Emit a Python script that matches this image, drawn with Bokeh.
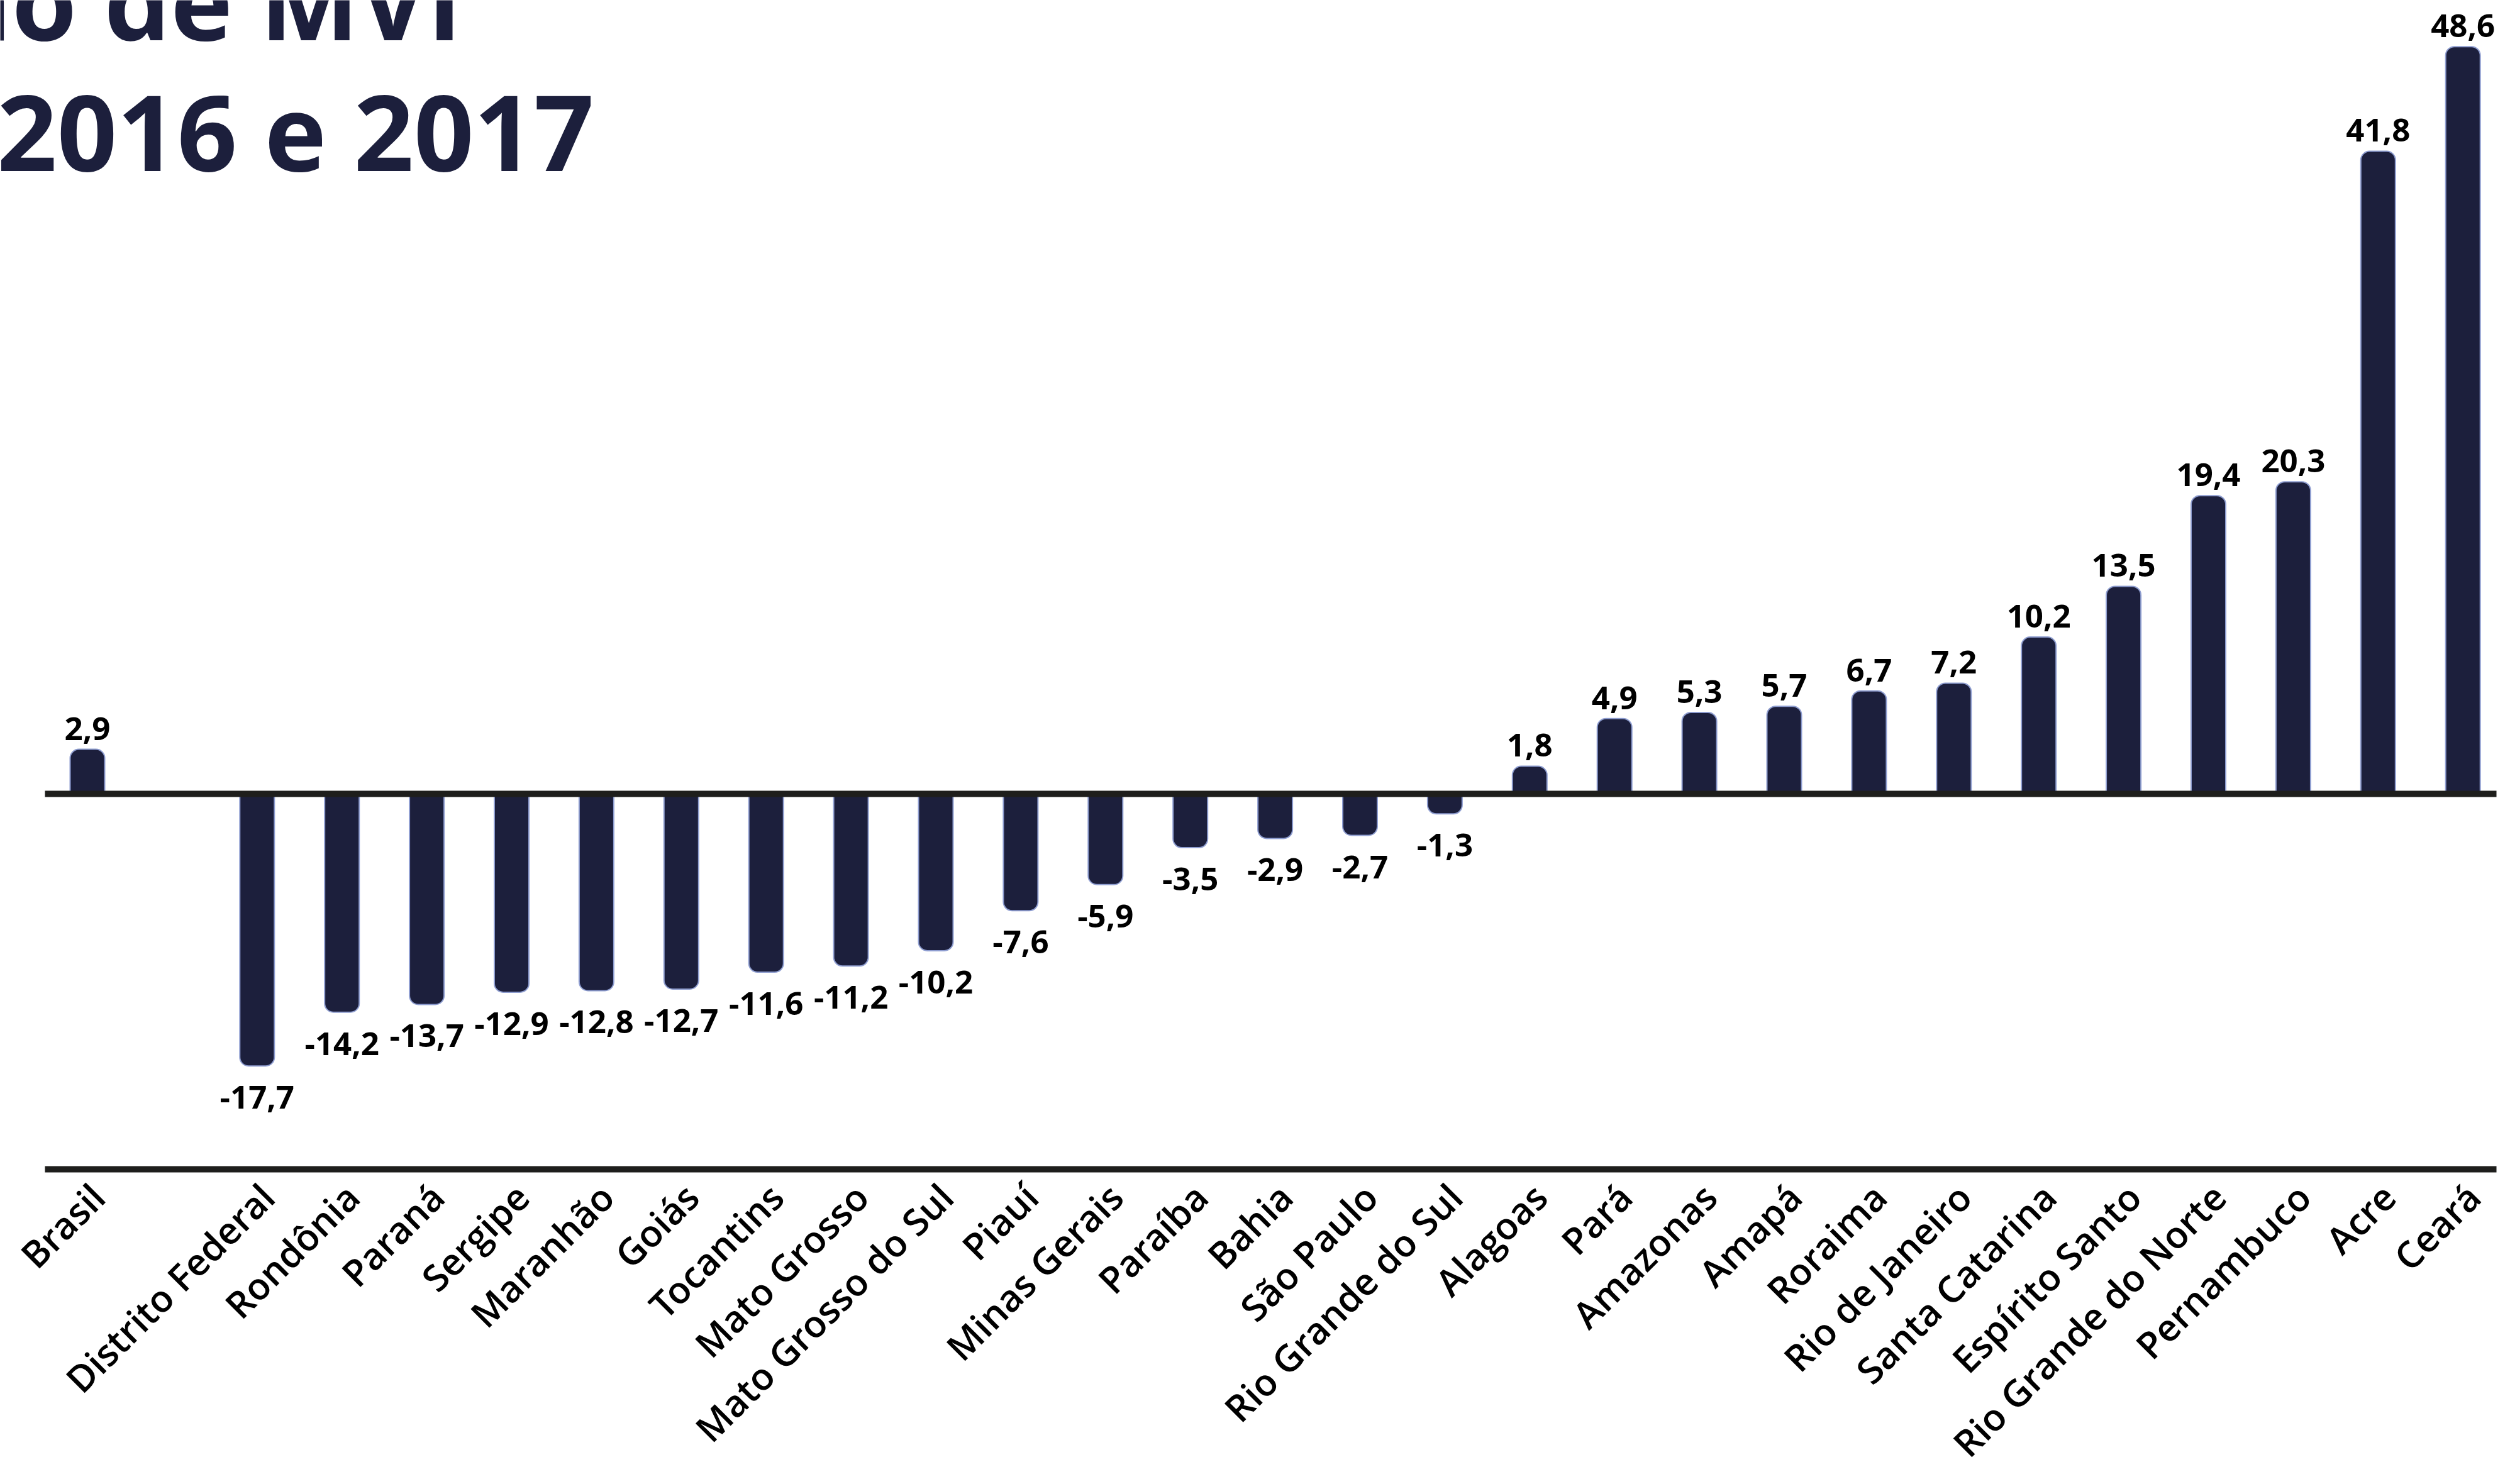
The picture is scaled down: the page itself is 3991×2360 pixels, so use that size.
import math
from bokeh.plotting import figure
from bokeh.models import ColumnDataSource, Range1d
from bokeh.embed import file_html
from bokeh.resources import INLINE
from bokeh.core.properties import value

# ---------------- data ----------------
states = ["Brasil", "Distrito Federal", "Rondônia", "Paraná", "Sergipe", "Maranhão",
          "Goiás", "Tocantins", "Mato Grosso", "Mato Grosso do Sul", "Piauí",
          "Minas Gerais", "Paraíba", "Bahia", "São Paulo", "Rio Grande do Sul",
          "Alagoas", "Pará", "Amazonas", "Amapá", "Roraima", "Rio de Janeiro",
          "Santa Catarina", "Espírito Santo", "Rio Grande do Norte", "Pernambuco",
          "Acre", "Ceará"]
variation = [2.9, -17.7, -14.2, -13.7, -12.9, -12.8, -12.7, -11.6, -11.2, -10.2, -7.6,
             -5.9, -3.5, -2.9, -2.7, -1.3, 1.8, 4.9, 5.3, 5.7, 6.7, 7.2, 10.2, 13.5,
             19.4, 20.3, 41.8, 48.6]
title_lines = ["Variação de MVI", "entre 2016 e 2017"]

# ---------------- layout (pixels of the page) ----------------
W, H = 3975, 2344
MARGIN = 8
SLOT_PX = 134.9      # distance between bar centres
X0_PX = 146.5        # centre of first bar
UNIT_PX = 24.45      # pixels per percentage point
ZERO_PX = 1270       # zero line
BASE_PX = 1867       # lower rule
LINE_L, LINE_R = 79, 3977

NAVY = "#1c1f3c"
EDGE = "#8e9dd0"
RULE = "#1e1e1c"


def dx(px):
    return (px - X0_PX) / SLOT_PX


def dy(py):
    return (ZERO_PX - py) / UNIT_PX


# Brasil is separated from the states by one empty slot
pos = [0] + [i + 2 for i in range(len(states) - 1)]
labels = [f"{v:.1f}".replace(".", ",") for v in variation]

p = figure(width=W, height=H,
           x_range=Range1d(dx(MARGIN), dx(MARGIN + W)),
           y_range=Range1d(dy(MARGIN + H), dy(MARGIN)),
           output_backend="svg", toolbar_location=None,
           x_axis_location=None, y_axis_location=None,
           min_border=0, outline_line_color=None,
           background_fill_color="white", border_fill_color="white")
p.grid.visible = False

pos_src = ColumnDataSource(dict(
    x=[x for x, v in zip(pos, variation) if v >= 0],
    top=[v for v in variation if v >= 0],
    bottom=[0 for v in variation if v >= 0],
    lab=[l for l, v in zip(labels, variation) if v >= 0]))
neg_src = ColumnDataSource(dict(
    x=[x for x, v in zip(pos, variation) if v < 0],
    top=[0 for v in variation if v < 0],
    bottom=[v for v in variation if v < 0],
    lab=[l for l, v in zip(labels, variation) if v < 0]))

BAR_W = 55 / SLOT_PX
p.vbar(x="x", top="top", bottom="bottom", width=BAR_W, source=pos_src,
       fill_color=NAVY, line_color=EDGE, line_width=2, border_radius=(14, 14, 0, 0))
p.vbar(x="x", top="top", bottom="bottom", width=BAR_W, source=neg_src,
       fill_color=NAVY, line_color=EDGE, line_width=2, border_radius=(0, 0, 14, 14))

# rules
p.segment(x0=[dx(LINE_L), dx(LINE_L)], y0=[0, dy(BASE_PX)],
          x1=[dx(LINE_R), dx(LINE_R)], y1=[0, dy(BASE_PX)],
          line_width=10, line_color=RULE, line_cap="butt")

# value labels
p.text(x="x", y="top", text="lab", source=pos_src, text_align="center",
       text_baseline="alphabetic", y_offset=-33, text_font=value("Open Sans"),
       text_font_style="bold", text_font_size="51px", text_color="#000000")
p.text(x="x", y="bottom", text="lab", source=neg_src, text_align="center",
       text_baseline="top", y_offset=32, text_font=value("Open Sans"),
       text_font_style="bold", text_font_size="51px", text_color="#000000")

# category labels
p.text(x=[x + 0.12 for x in pos], y=[dy(1900)] * len(pos), text=states,
       angle=math.pi / 4, text_align="right", text_baseline="middle",
       text_font=value("Open Sans SemiBold"), text_font_size="59px",
       text_color="#000000")

# title (cropped at the top-left, as in the original)
p.text(x=[dx(742), dx(952)], y=[dy(67), dy(275)], text=title_lines,
       text_align="right", text_baseline="alphabetic", y_offset=-60,
       text_font=value("Open Sans"), text_font_style="bold",
       text_font_size="167px", text_color=NAVY)

open("out.html", "w").write(file_html(p, INLINE))
